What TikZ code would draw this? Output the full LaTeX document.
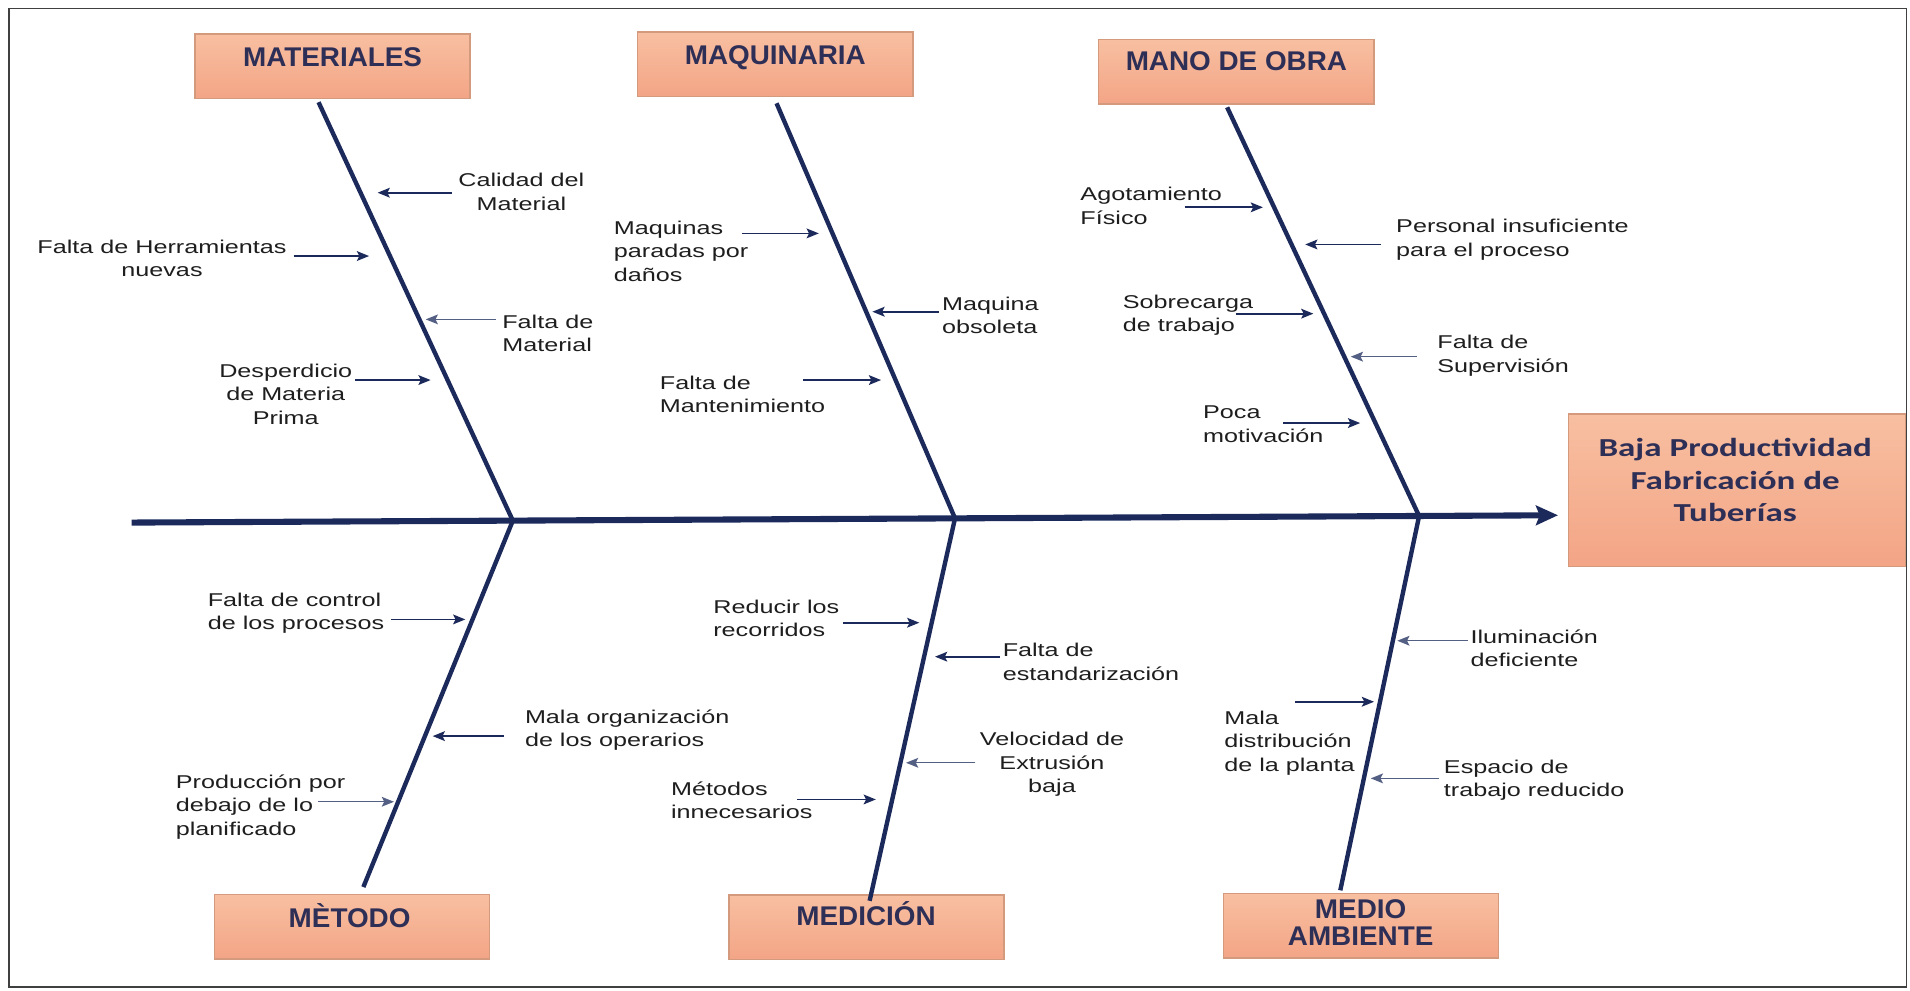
\documentclass[tikz,border=0pt]{standalone}
\usepackage{fontspec}
\usetikzlibrary{arrows.meta,calc}
\newfontfamily\bodyfont[FakeStretch=1.36]{Liberation Sans}
\newfontfamily\titlefont[FakeStretch=1.03]{Liberation Sans}
\newfontfamily\effectfont[FakeStretch=1.35]{Carlito}
\definecolor{bonecol}{HTML}{1B2A5B}
\definecolor{boxtop}{HTML}{F8BFA1}
\definecolor{boxbot}{HTML}{F3A586}
\definecolor{boxline}{HTML}{D39A7D}
\definecolor{titlecol}{HTML}{2E2F56}
\definecolor{txtcol}{HTML}{1E1E1E}
\begin{document}
\begin{tikzpicture}[x=0.5pt,y=-0.5pt,
  catbox/.style={draw=boxline, line width=0.6pt, top color=boxtop, bottom color=boxbot,
    minimum width=113pt, minimum height=26.5pt, inner sep=0pt},
  effbox/.style={catbox, minimum width=138.5pt, minimum height=62.5pt},
  cattext/.style={font={\titlefont\bfseries\fontsize{11.1pt}{11pt}\selectfont}, text=titlecol,
    inner sep=0pt, align=center, anchor=base},
  efftext/.style={font={\effectfont\bfseries\fontsize{10.65pt}{13.4pt}\selectfont}, text=titlecol,
    inner sep=0pt, align=center, anchor=base},
  lbl/.style={font={\bodyfont\fontsize{7.6pt}{9.65pt}\selectfont}, text=txtcol,
    inner sep=0pt, align=left, anchor=base west},
  lblc/.style={lbl, align=center, anchor=base},
  spine/.style={draw=bonecol, line width=2.5pt, -{Stealth[length=9pt,width=8pt,inset=1.5pt]}},
  bone/.style={draw=bonecol, line width=1.8pt},
  cause/.style={draw=bonecol, line width=0.7pt, -{Stealth[length=5pt,width=4pt,inset=1pt]}},
  causelight/.style={cause, draw=bonecol!75, line width=0.55pt},
  frame/.style={draw=black!75, line width=0.7pt}]

\useasboundingbox (0,0) rectangle (1568,813);
\fill[white] (0,0) rectangle (1568,813);
\draw[frame] (7.5,7) rectangle (1565,810);

% category boxes and effect box
\node[catbox] (mat) at (273,54.3) {};
\node[catbox] (maq) at (636.5,52.7) {};
\node[catbox] (mob) at (1015,58.8) {};
\node[catbox] (met) at (289,760.8) {};
\node[catbox] (med) at (711.3,761.1) {};
\node[catbox] (mam) at (1117.3,760) {};
\node[effbox] (eff) at (1426,402.5) {};

% titles (anchored at the baseline of their last line)
\node[cattext] (matT) at (273,55) {MATERIALES};
\node[cattext] (maqT) at (636.5,53) {MAQUINARIA};
\node[cattext] (mobT) at (1015,57.5) {MANO DE OBRA};
\node[cattext] (metT) at (287,761.5) {MÈTODO};
\node[cattext] (medT) at (711,760) {MEDICIÓN};
\node[cattext] (mamT) at (1117,776) {MEDIO\\AMBIENTE};
\node[efftext] (effT) at (1424.5,428.5) {Baja Productividad\\Fabricación de\\Tuberías};

% spine and bones
\coordinate (tail) at (108,429);
\coordinate (head) at (1279,423);
\coordinate (j1) at (421,427.4);
\coordinate (j2) at (784,425.5);
\coordinate (j3) at (1165,423.6);

\draw[bone] ($(mat.south)+(-11.5,2.5)$) -- (j1);
\draw[bone] ($(maq.south)+(1,5)$) -- (j2);
\draw[bone] ($(mob.south)+(-7.6,2.2)$) -- (j3);
\draw[bone] (j1) -- ($(met.north)+(9.3,-5.5)$);
\draw[bone] (j2) -- ($(med.north)+(2.6,5.5)$);
\draw[bone] (j3) -- ($(mam.north)+(-17,-2)$);
\draw[spine] (tail) -- (head);

% causes: labels (anchored at the baseline of their last line)
\node[lblc] (cal) at (428,172.6) {Calidad del\\Material};
\node[lblc] (her) at (133,227.3) {Falta de Herramientas\\nuevas};
\node[lbl] (fmat) at (412,288.9) {Falta de\\Material};
\node[lblc] (des) at (234.6,348.4) {Desperdicio\\de Materia\\Prima};
\node[lbl] (maqs) at (503.6,231) {Maquinas\\paradas por\\daños};
\node[lbl] (obs) at (773,273.8) {Maquina\\obsoleta};
\node[lbl] (man) at (541.4,338.9) {Falta de\\Mantenimiento};
\node[lbl] (ago) at (886.6,184.3) {Agotamiento\\Físico};
\node[lbl] (per) at (1145.8,210.3) {Personal insuficiente\\para el proceso};
\node[lbl] (sob) at (921.4,272.3) {Sobrecarga\\de trabajo};
\node[lbl] (sup) at (1179.6,305.8) {Falta de\\Supervisión};
\node[lbl] (poc) at (987.3,362.9) {Poca\\motivación};
\node[lbl] (con) at (170.2,516.8) {Falta de control\\de los procesos};
\node[lbl] (org) at (430.6,613.2) {Mala organización\\de los operarios};
\node[lbl] (pro) at (144,685.8) {Producción por\\debajo de lo\\planificado};
\node[lbl] (red) at (585.2,522.9) {Reducir los\\recorridos};
\node[lbl] (est) at (822.8,558.4) {Falta de\\estandarización};
\node[lblc] (vel) at (863.6,650.8) {Velocidad de\\Extrusión\\baja};
\node[lbl] (mto) at (550.5,672) {Métodos\\innecesarios};
\node[lbl] (ilu) at (1206.9,547.5) {Iluminación\\deficiente};
\node[lbl] (dis) at (1004.7,633) {Mala\\distribución\\de la planta};
\node[lbl] (esp) at (1185,654.2) {Espacio de\\trabajo reducido};

% causes: arrows towards the bones
\foreach \n/\sx/\ex/\yy in {
  cal/371/310/158.2, her/241/303/210.2, des/291.5/353.5/312,
  maqs/609.2/672.2/191.6, obs/771/716.2/255.9, man/659.3/723.3/312,
  ago/972.4/1036.8/170.2, per/1133.7/1071.5/200.7, sob/1014.3/1078.2/257.5,
  poc/1053.4/1116.6/347.3,
  con/321/382/508.5, org/413.9/355.2/604.3,
  red/691.7/754.7/511.2, est/821/767.6/539.1, mto/654.3/719/656.3,
  dis/1063.5/1128/576.1}{
  \coordinate (\n-s) at (\sx,\yy);
  \coordinate (\n-e) at (\ex,\yy);
  \draw[cause] (\n-s) -- (\n-e);
}
\foreach \n/\sx/\ex/\yy in {
  fmat/407/349.5/262.2, sup/1162.9/1108.9/292.8, pro/261.4/323.4/658.2,
  vel/800.7/743.8/626.2, ilu/1204.8/1147.1/526, esp/1181/1125.3/639}{
  \coordinate (\n-s) at (\sx,\yy);
  \coordinate (\n-e) at (\ex,\yy);
  \draw[causelight] (\n-s) -- (\n-e);
}
\end{tikzpicture}
\end{document}
